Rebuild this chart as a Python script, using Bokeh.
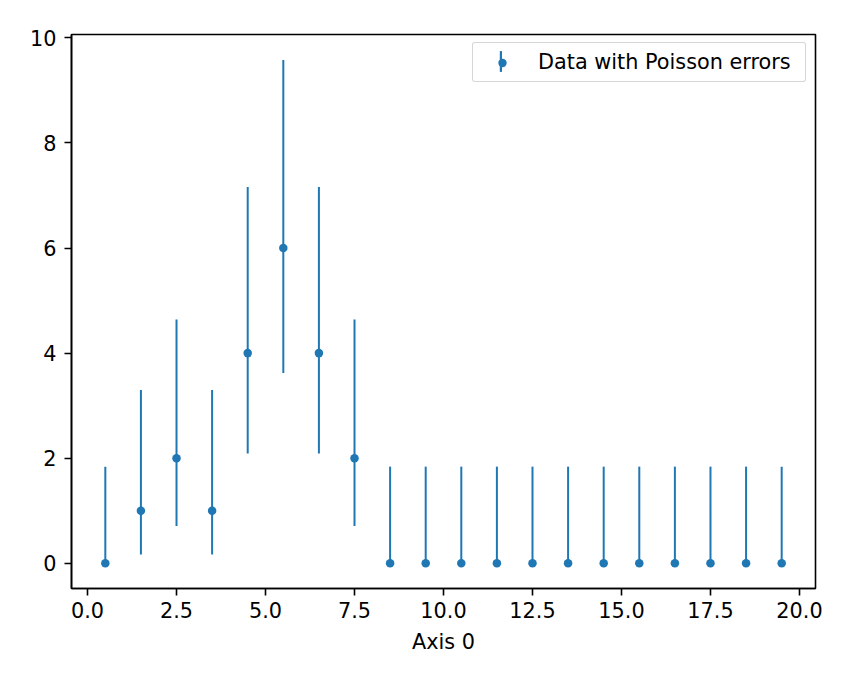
from bokeh.plotting import figure
from bokeh.models import Legend, LegendItem, Range1d, FixedTicker, NumeralTickFormatter
from bokeh.embed import file_html
from bokeh.resources import INLINE

# ---- data ----
x_centers = [0.5, 1.5, 2.5, 3.5, 4.5, 5.5, 6.5, 7.5, 8.5, 9.5,
             10.5, 11.5, 12.5, 13.5, 14.5, 15.5, 16.5, 17.5, 18.5, 19.5]
counts = [0, 1, 2, 1, 4, 6, 4, 2, 0, 0, 0, 0, 0, 0, 0, 0, 0, 0, 0, 0]
err_low = [0.0, 0.17, 0.71, 0.17, 2.09, 3.62, 2.09, 0.71, 0.0, 0.0,
           0.0, 0.0, 0.0, 0.0, 0.0, 0.0, 0.0, 0.0, 0.0, 0.0]
err_high = [1.84, 3.30, 4.64, 3.30, 7.16, 9.58, 7.16, 4.64, 1.84, 1.84,
            1.84, 1.84, 1.84, 1.84, 1.84, 1.84, 1.84, 1.84, 1.84, 1.84]
x_ticks = [0, 2.5, 5, 7.5, 10, 12.5, 15, 17.5, 20]
y_ticks = [0, 2, 4, 6, 8, 10]
x_label = "Axis 0"
legend_label = "Data with Poisson errors"

BLUE = "#1f77b4"
FONT = "DejaVu Sans"
FS = "20.8px"

p = figure(width=843, height=675, output_backend="svg", toolbar_location=None,
           x_range=Range1d(-0.45, 20.45), y_range=Range1d(-0.479, 10.063),
           min_border_left=71, min_border_right=28, min_border_top=34, min_border_bottom=87)

p.grid.visible = False
p.outline_line_color = "black"
p.outline_line_width = 1.6
p.background_fill_color = "white"
p.border_fill_color = "white"

for ax in (p.xaxis[0], p.yaxis[0]):
    ax.axis_line_color = "black"
    ax.axis_line_width = 1.6
    ax.major_tick_line_color = "black"
    ax.major_tick_line_width = 1.6
    ax.major_tick_out = 7
    ax.major_tick_in = 0
    ax.minor_tick_line_color = None
    ax.major_label_text_font = FONT
    ax.major_label_text_font_size = FS
    ax.major_label_text_color = "black"
    ax.axis_label_text_font = FONT
    ax.axis_label_text_font_size = FS
    ax.axis_label_text_font_style = "normal"
    ax.axis_label_text_color = "black"

p.xaxis.ticker = FixedTicker(ticks=x_ticks)
p.xaxis.formatter = NumeralTickFormatter(format="0.0")
p.xaxis.major_label_standoff = 6
p.xaxis.axis_label = x_label
p.xaxis.axis_label_standoff = 9
p.yaxis.ticker = FixedTicker(ticks=y_ticks)
p.yaxis.major_label_standoff = 8

p.segment(x0=x_centers, y0=err_low, x1=x_centers, y1=err_high,
          line_color=BLUE, line_width=2)
dots = p.scatter(x=x_centers, y=counts, size=8.5, fill_color=BLUE, line_color=None)

# legend helper for the vertical errorbar handle (zero-size bar, invisible on the plot)
bar = p.vbar(x=x_centers[:1], bottom=counts[:1], top=counts[:1], width=0,
             fill_color=BLUE, line_color=None)

leg1 = Legend(items=[LegendItem(label=legend_label, renderers=[dots])],
              location=(401, 506), padding=7, spacing=0, margin=0,
              glyph_width=44, glyph_height=21, label_standoff=14, label_width=260,
              label_text_font=FONT, label_text_font_size=FS, label_text_color="black",
              border_line_color="#cccccc", border_line_alpha=0.8, border_line_width=1.4,
              background_fill_color="white", background_fill_alpha=0.8,
              border_radius=3)
leg2 = Legend(items=[LegendItem(label=" ", renderers=[bar])],
              location=(428, 514), padding=0, spacing=0, margin=0,
              glyph_width=3, glyph_height=26, label_standoff=0,
              label_text_font_size="1px", label_height=1, label_width=1,
              border_line_color=None, background_fill_alpha=0)
p.add_layout(leg1, "center")
p.add_layout(leg2, "center")

open("out.html", "w").write(file_html(p, INLINE))
